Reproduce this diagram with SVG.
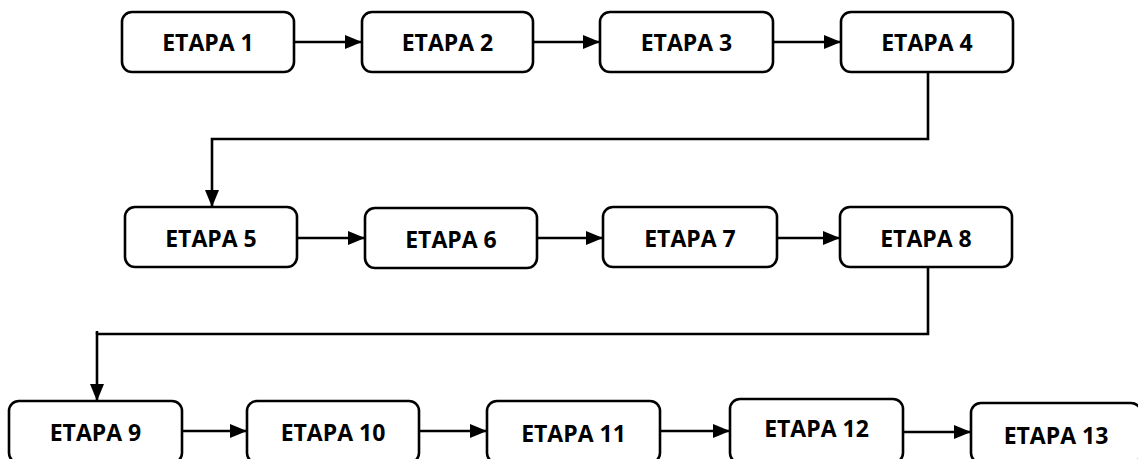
<svg xmlns="http://www.w3.org/2000/svg" width="1138" height="459" viewBox="0 0 1138 459">
  <style>
    .box { fill: #ffffff; stroke: #000000; stroke-width: 2.6; }
    .lbl { font-family: "Open Sans", "Liberation Sans", sans-serif; font-weight: 700; font-size: 23px; fill: #000000; text-anchor: middle; dominant-baseline: central; }
    .wire { fill: none; stroke: #000000; stroke-width: 2.6; }
    .arrow { marker-end: url(#head); }
  </style>
  <defs>
    <marker id="head" markerUnits="userSpaceOnUse" markerWidth="19" markerHeight="15" refX="17" refY="7" orient="auto">
      <path d="M0,0 L17,7 L0,14 Z" fill="#000000"/>
    </marker>
  </defs>
  <rect width="1138" height="459" fill="#ffffff"/>

  <!-- connectors -->
  <g id="connectors">
    <line class="wire arrow" x1="294" y1="42" x2="362" y2="42"/>
    <line class="wire arrow" x1="533" y1="42" x2="600" y2="42"/>
    <line class="wire arrow" x1="773" y1="42" x2="841" y2="42"/>
    <polyline class="wire arrow" points="928,72 928,139 212,139 212,207"/>
    <line class="wire arrow" x1="297" y1="238" x2="365" y2="238"/>
    <line class="wire arrow" x1="537" y1="238" x2="603" y2="238"/>
    <line class="wire arrow" x1="777" y1="238" x2="840" y2="238"/>
    <polyline class="wire arrow" points="928,267 928,334 97,334 97,401"/>
    <line class="wire" x1="97" y1="331" x2="97" y2="334"/>
    <line class="wire arrow" x1="182" y1="431" x2="247" y2="431"/>
    <line class="wire arrow" x1="419" y1="431" x2="487" y2="431"/>
    <line class="wire arrow" x1="660" y1="431" x2="730" y2="431"/>
    <line class="wire arrow" x1="903" y1="432" x2="971" y2="432"/>
  </g>

  <!-- row 1 -->
  <g id="etapa1"><rect class="box" x="122" y="12" width="172" height="60" rx="10"/><text class="lbl" x="208" y="42">ETAPA 1</text></g>
  <g id="etapa2"><rect class="box" x="362" y="12" width="171" height="60" rx="10"/><text class="lbl" x="447.5" y="42">ETAPA 2</text></g>
  <g id="etapa3"><rect class="box" x="600" y="12" width="173" height="60" rx="10"/><text class="lbl" x="686.5" y="42">ETAPA 3</text></g>
  <g id="etapa4"><rect class="box" x="841" y="12" width="172" height="60" rx="10"/><text class="lbl" x="927" y="42">ETAPA 4</text></g>

  <!-- row 2 -->
  <g id="etapa5"><rect class="box" x="125" y="207" width="172" height="60" rx="10"/><text class="lbl" x="211" y="238">ETAPA 5</text></g>
  <g id="etapa6"><rect class="box" x="365" y="208" width="172" height="60" rx="10"/><text class="lbl" x="451" y="239">ETAPA 6</text></g>
  <g id="etapa7"><rect class="box" x="603" y="207" width="174" height="60" rx="10"/><text class="lbl" x="690" y="238">ETAPA 7</text></g>
  <g id="etapa8"><rect class="box" x="840" y="207" width="172" height="60" rx="10"/><text class="lbl" x="926" y="238">ETAPA 8</text></g>

  <!-- row 3 -->
  <g id="etapa9"><rect class="box" x="9" y="401" width="173" height="62" rx="10"/><text class="lbl" x="95.5" y="432">ETAPA 9</text></g>
  <g id="etapa10"><rect class="box" x="247" y="401" width="172" height="62" rx="10"/><text class="lbl" x="333" y="432">ETAPA 10</text></g>
  <g id="etapa11"><rect class="box" x="487" y="401" width="173" height="62" rx="10"/><text class="lbl" x="573.5" y="433">ETAPA 11</text></g>
  <g id="etapa12"><rect class="box" x="730" y="399" width="173" height="64" rx="10"/><text class="lbl" x="816.5" y="428">ETAPA 12</text></g>
  <g id="etapa13"><rect class="box" x="971" y="403" width="170" height="60" rx="10"/><text class="lbl" x="1056" y="435">ETAPA 13</text></g>
</svg>
